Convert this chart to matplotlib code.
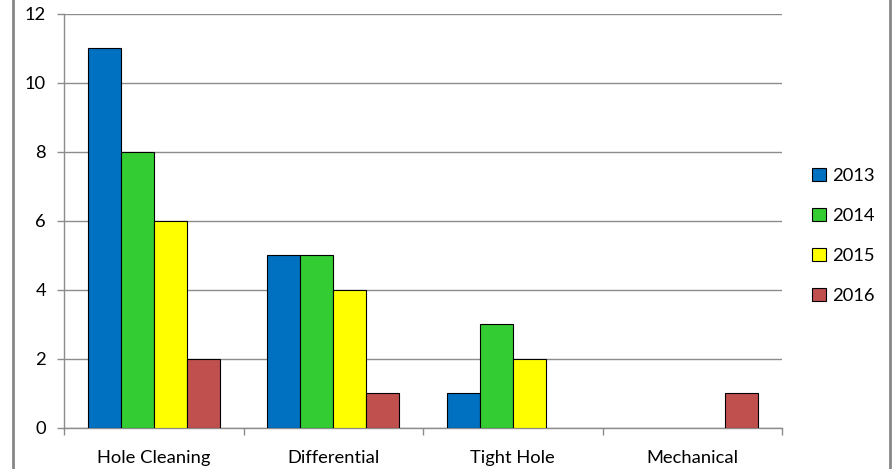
import matplotlib
matplotlib.use("Agg")
import matplotlib.pyplot as plt
from matplotlib.lines import Line2D
import numpy as np

categories = ["Hole Cleaning", "Differential", "Tight Hole", "Mechanical"]
years = ["2013", "2014", "2015", "2016"]
values_2013 = [11, 5, 1, 0]
values_2014 = [8, 5, 3, 0]
values_2015 = [6, 4, 2, 0]
values_2016 = [2, 1, 0, 1]
series = [values_2013, values_2014, values_2015, values_2016]
colors = ["#0070C0", "#33CC33", "#FFFF00", "#C0504D"]
y_ticks = [0, 2, 4, 6, 8, 10, 12]

plt.rcParams["font.family"] = ["Lato", "DejaVu Sans"]
grey = "#8C8C8C"
fs = 13.2

fig = plt.figure(figsize=(8.92, 4.69), dpi=100)
ax = fig.add_axes([64 / 892, 1 - 427.7 / 469, (782 - 64) / 892, (427.7 - 14) / 469])

x = np.arange(len(categories))
width = 0.184
for i, (vals, col, yr) in enumerate(zip(series, colors, years)):
    # empty bars get no outline, so nothing shows on the baseline
    lws = [0.8 if v > 0 else 0 for v in vals]
    ax.bar(x + (i - 1.5) * width, vals, width, color=col, edgecolor="black",
           linewidth=lws, label=yr, zorder=3)

ax.set_xlim(-0.5, len(categories) - 0.5)
ax.set_ylim(0, 12)
ax.set_yticks(y_ticks)
ax.set_yticklabels([str(v) for v in y_ticks])
ax.set_xticks(x)
ax.set_xticklabels(categories)
ax.set_xticks(np.arange(len(categories) + 1) - 0.5, minor=True)
ax.tick_params(axis="x", which="major", length=0, pad=16, labelsize=fs, colors="black")
ax.tick_params(axis="x", which="minor", length=5, width=1, color=grey, direction="out")
ax.tick_params(axis="y", length=5, width=1, color=grey, direction="out", pad=8,
               labelsize=fs)

ax.grid(axis="y", color=grey, linewidth=1, zorder=0)
for side in ("top", "right"):
    ax.spines[side].set_visible(False)
for side in ("left", "bottom"):
    ax.spines[side].set_color(grey)
    ax.spines[side].set_linewidth(1)

leg = ax.legend(loc="center left", bbox_to_anchor=(812 / 892, 1 - 236 / 469),
                bbox_transform=fig.transFigure, frameon=False, fontsize=fs,
                handlelength=0.75, handleheight=0.75, handletextpad=0.35,
                labelspacing=1.3, borderaxespad=0, borderpad=0)
for h in leg.legend_handles:
    h.set_linewidth(0.8)

# chart-area border on the left and right
for xf in (13 / 892, 890 / 892):
    fig.add_artist(Line2D([xf, xf], [0, 1], transform=fig.transFigure,
                          color="#878787", linewidth=2))

fig.savefig("out.png", dpi=100)
